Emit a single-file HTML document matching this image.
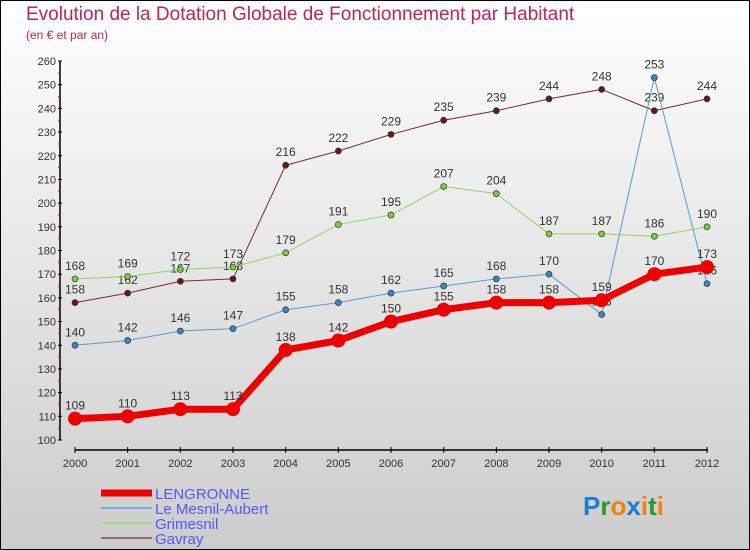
<!DOCTYPE html>
<html><head><meta charset="utf-8"><style>
html,body{margin:0;padding:0}
body{width:750px;height:550px;overflow:hidden;font-family:"Liberation Sans",sans-serif}
#wrap{position:relative;width:748px;height:548px;border:1px solid #000;background:linear-gradient(#ffffff,#cccccc)}
.t{position:absolute;color:#c0245c}
</style></head><body>
<div id="wrap">
<div class="t" style="left:25px;top:3px;font-size:19px;">Evolution de la Dotation Globale de Fonctionnement par Habitant</div>
<div class="t" style="left:25px;top:27px;font-size:12px;">(en € et par an)</div>
<svg id="chart" width="748" height="548" style="position:absolute;left:0;top:0"></svg>
</div>
<script>
const years=[2000,2001,2002,2003,2004,2005,2006,2007,2008,2009,2010,2011,2012];
const lengronne=[109,110,113,113,138,142,150,155,158,158,159,170,173];
const mesnil=[140,142,146,147,155,158,162,165,168,170,153,253,166];
const grimesnil=[168,169,172,173,179,191,195,207,204,187,187,186,190];
const gavray=[158,162,167,168,216,222,229,235,239,244,248,239,244];
const yTicks=[100,110,120,130,140,150,160,170,180,190,200,210,220,230,240,250,260];
const NS="http://www.w3.org/2000/svg";
const svg=document.getElementById('chart');
const x=i=>74+i*(632/12);
const y=v=>439-(v-100)*(379/160);
function el(t,a,p){const e=document.createElementNS(NS,t);for(const k in a)e.setAttribute(k,a[k]);(p||svg).appendChild(e);return e;}
// axes
const ya=el('line',{x1:59,y1:y(260),x2:59,y2:y(100),stroke:'#000','stroke-width':1.5});


const xa=el('line',{x1:74,y1:449,x2:707,y2:449,stroke:'#000','stroke-width':1.5});


yTicks.forEach(v=>{
  el('line',{x1:57,y1:y(v),x2:61,y2:y(v),stroke:'#000'});
  if(v<260) el('line',{x1:57,y1:y(v+5),x2:60,y2:y(v+5),stroke:'#e00'});
  const t=el('text',{x:55,y:y(v)+4,'text-anchor':'end','font-size':11,fill:'#333'});
  t.textContent=v;
  
  
});
years.forEach((yr,i)=>{
  el('line',{x1:x(i),y1:446,x2:x(i),y2:452,stroke:'#000'});
  const t=el('text',{x:x(i),y:466,'text-anchor':'middle','font-size':11,fill:'#333'});
  t.textContent=yr;
  
  
});
function series(data,color,dot,w,r,name){
  const g=el('g',{});
  
  
  el('polyline',{points:data.map((v,i)=>x(i)+','+y(v)).join(' '),fill:'none',stroke:color,'stroke-width':w,'stroke-linejoin':'round'},g);
  data.forEach((v,i)=>{
    const c=el('circle',{cx:x(i),cy:y(v),r:r,fill:dot,stroke:'#333','stroke-width':r>4?0:0.7},g);
    
    
    const t=el('text',{x:x(i),y:y(v)-9,'text-anchor':'middle','font-size':12,fill:'#333'},g);
    t.textContent=v;
  });
}
series(gavray,'#7a2a2a','#661818',1,3,'series-gavray');
series(grimesnil,'#8fd468','#7ccc3c',1,3,'series-grimesnil');
series(mesnil,'#5a9ad0','#3a86c8',1,3,'series-mesnil-aubert');
series(lengronne,'#ee0000','#ee0000',7,7,'series-lengronne');
// legend
const leg=[['LENGRONNE','#ee0000',7],['Le Mesnil-Aubert','#7aaad8',2],['Grimesnil','#a0dc80',2],['Gavray','#9a6a6a',2]];
leg.forEach((l,i)=>{
  const yy=492+i*15;
  const g=el('g',{});
  
  
  el('line',{x1:100,y1:yy,x2:151,y2:yy,stroke:l[1],'stroke-width':l[2]},g);
  const t=el('text',{x:154,y:yy+6,'font-size':15,fill:'#5555ff'},g);t.textContent=l[0];
});
const lg=el('text',{x:582,y:514,'font-size':26,'font-weight':'bold'});


[['P','#1a7fd0'],['r','#2a9a2a'],['o','#f08010'],['x','#1a7fd0'],['i','#f08010'],['t','#2a9a2a'],['i','#f08010']].forEach(c=>{const s=el('tspan',{fill:c[1]},lg);s.textContent=c[0];});
</script>
</body></html>
